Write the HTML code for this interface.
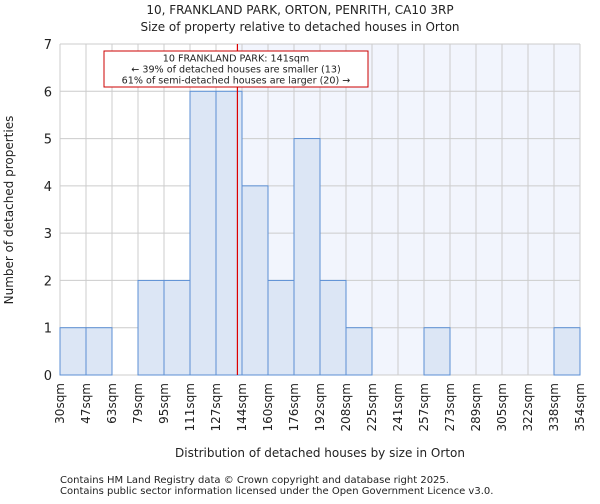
<!DOCTYPE html>
<html><head><meta charset="utf-8"><style>
body{margin:0;background:#fff;font-family:"DejaVu Sans","Liberation Sans",sans-serif;}
svg text{font-family:"DejaVu Sans","Liberation Sans",sans-serif;fill:#222;}
</style></head><body>
<svg id="chart" width="600" height="500" xmlns="http://www.w3.org/2000/svg">
<text x="300" y="14" text-anchor="middle" font-size="12">10, FRANKLAND PARK, ORTON, PENRITH, CA10 3RP</text>
<text x="300" y="31" text-anchor="middle" font-size="12">Size of property relative to detached houses in Orton</text>
<g id="plot"></g>
<text x="320" y="457" text-anchor="middle" font-size="12">Distribution of detached houses by size in Orton</text>
<text x="0" y="0" transform="translate(13,210) rotate(-90)" text-anchor="middle" font-size="12">Number of detached properties</text>
<text x="60" y="483" font-size="10" fill="#444">Contains HM Land Registry data © Crown copyright and database right 2025.</text>
<text x="60" y="494" font-size="10" fill="#444">Contains public sector information licensed under the Open Government Licence v3.0.</text>
</svg>
<script>
const binLabels=["30sqm","47sqm","63sqm","79sqm","95sqm","111sqm","127sqm","144sqm","160sqm","176sqm","192sqm","208sqm","225sqm","241sqm","257sqm","273sqm","289sqm","305sqm","322sqm","338sqm","354sqm"];
const binEdges=[30,47,63,79,95,111,127,144,160,176,192,208,225,241,257,273,289,305,322,338,354];
const counts=[1,1,0,2,2,6,6,4,2,5,2,1,0,0,1,0,0,0,0,1];
const yTicks=[0,1,2,3,4,5,6,7];
const subjectSize=141;
const annotationLines=["10 FRANKLAND PARK: 141sqm","← 39% of detached houses are smaller (13)","61% of semi-detached houses are larger (20) →"];
const X0=60,X1=580,Y0=375,Y1=44,NS="http://www.w3.org/2000/svg";
const n=counts.length,bw=(X1-X0)/n;
const xi=i=>X0+i*bw;
const xv=v=>{for(let i=0;i<binEdges.length-1;i++){if(v<=binEdges[i+1])return xi(i)+bw*(v-binEdges[i])/(binEdges[i+1]-binEdges[i]);}return X1;};
const y=v=>Y0-(Y0-Y1)*v/7;
const g=document.getElementById('plot');
function mk(t,a){const e=document.createElementNS(NS,t);for(const k in a)e.setAttribute(k,a[k]);g.appendChild(e);return e;}
const sx=xv(subjectSize);
let e=mk('rect',{x:X0,y:Y1,width:sx-X0,height:Y0-Y1,fill:'#ffffff'});


e=mk('rect',{x:sx,y:Y1,width:X1-sx,height:Y0-Y1,fill:'#f2f5fd'});


for(let i=0;i<=n;i++){e=mk('line',{x1:xi(i),x2:xi(i),y1:Y1,y2:Y0,stroke:'#cccccc','stroke-width':1});

}
yTicks.forEach(t=>{e=mk('line',{x1:X0,x2:X1,y1:y(t),y2:y(t),stroke:'#cccccc','stroke-width':1});


const tx=mk('text',{x:X0-8,y:y(t)+5,'text-anchor':'end','font-size':13});tx.textContent=t;

});
counts.forEach((c,i)=>{if(c<=0)return;const r=mk('rect',{x:xi(i),y:y(c),width:bw,height:Y0-y(c),fill:'#dce6f5',stroke:'#5b8fd4','stroke-width':1});

});
binLabels.forEach((l,i)=>{const t=mk('text',{transform:`translate(${xi(i)+4},${Y0+8}) rotate(-90)`,'text-anchor':'end','font-size':12});t.textContent=l;

});
e=mk('line',{x1:sx,x2:sx,y1:Y1,y2:Y0,stroke:'#dd0000','stroke-width':1.2});


e=mk('rect',{x:104,y:51,width:264,height:36,fill:'#fff',stroke:'#cc0000','stroke-width':1});


annotationLines.forEach((l,i)=>{const t=mk('text',{x:236,y:61.5+i*11,'text-anchor':'middle','font-size':9.6});t.textContent=l;

});
</script>
</body></html>
